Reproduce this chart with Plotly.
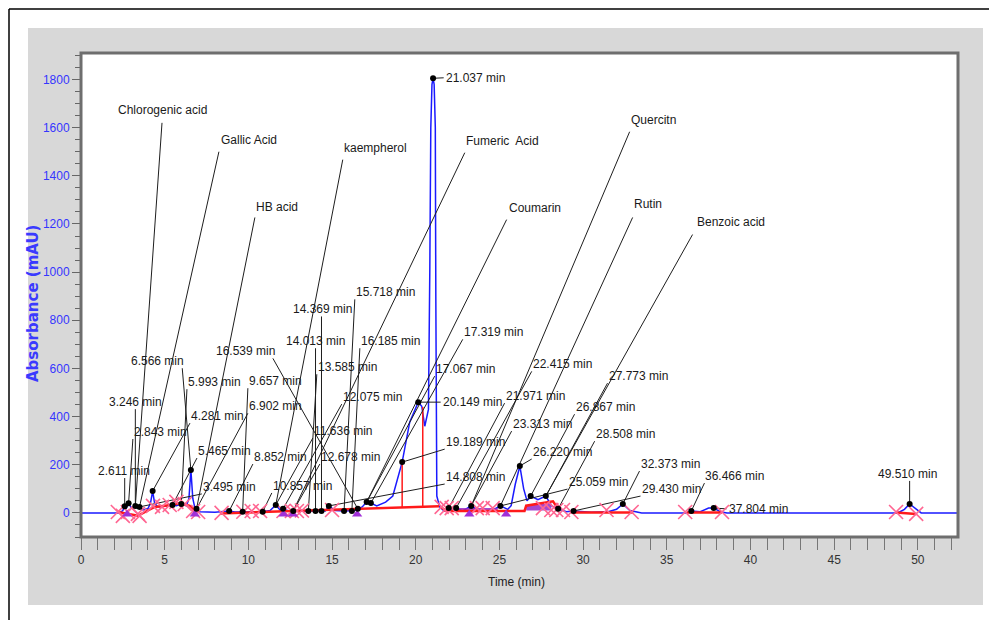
import plotly.graph_objects as go

# ---------------- chromatogram signal (retention time in min, absorbance in mAU) ----------------
time_min = [
    0.0, 2.3, 2.5, 2.611, 2.7, 2.843, 3.0, 3.246, 3.35, 3.495,
    3.7, 4.0, 4.15, 4.281, 4.4, 4.6, 5.0, 5.465, 5.7, 5.993,
    6.3, 6.45, 6.566, 6.68, 6.8, 6.902, 7.1, 8.0, 8.852, 9.2,
    9.657, 10.2, 10.857, 11.3, 11.636, 11.9, 12.075, 12.4, 12.678, 13.1,
    13.585, 13.8, 14.013, 14.2, 14.369, 14.6, 14.808, 15.2, 15.718, 16.0,
    16.185, 16.35, 16.539, 16.8, 17.067, 17.2, 17.319, 17.67, 18.2, 18.63,
    19.189, 19.64, 20.149, 20.36, 20.54, 20.76, 20.84, 20.9, 20.97, 21.037,
    21.1, 21.17, 21.2, 21.23, 21.26, 21.43, 21.7, 21.971, 22.2, 22.415,
    22.8, 23.313, 23.8, 24.5, 25.059, 25.5, 25.7, 25.95, 26.22, 26.45,
    26.65, 26.867, 27.3, 27.773, 28.1, 28.508, 29.0, 29.43, 30.5, 31.5,
    32.0, 32.373, 32.8, 33.5, 36.2, 36.466, 37.0, 37.5, 37.804, 38.2,
    38.6, 48.8, 49.2, 49.51, 49.8, 50.2, 52.4,
]
absorbance = [
    0, 0, 10, 28, 20, 40, 22, 29, 20, 25,
    12, 18, 40, 91, 40, 25, 28, 33, 30, 37,
    30, 60, 178, 60, 22, 17, 5, 3, 8, 4,
    5, 4, 5, 10, 33, 12, 17, 8, 8, 6,
    8, 6, 8, 6, 8, 8, 29, 10, 8, 8,
    8, 10, 17, 25, 45, 38, 41, 29, 45, 70,
    211, 377, 460, 443, 360, 430, 1000, 1600, 1780, 1805,
    1780, 1600, 900, 300, 70, 25, 8, 20, 10, 20,
    8, 29, 8, 8, 29, 15, 30, 120, 195, 100,
    50, 70, 55, 70, 30, 17, 5, 8, 3, 5,
    15, 37, 10, 0, 0, 8, 5, 20, 20, 5,
    0, 0, 15, 37, 20, 0, 0,
]

# ---------------- integration baseline (None splits segments) ----------------
baseline_t = [2.2, 3.4, 4.4, 5.4, 5.9, 6.5, 6.9, None,
              8.3, 14.8, 21.4, None,
              21.5, 21.8, 26.5, 26.6, 28.2, 28.6, None,
              29.3, 33.0, None, 36.2, 38.3, None, 48.7, 49.9]
baseline_mau = [4, -12, 25, 33, 41, 29, 4, None,
                -2, 12, 28, None,
                25, 8, 8, 30, 48, 8, None,
                2, 2, None, 2, 2, None, 2, -4]

# perpendicular drops between fused peaks
drop_t = [19.189, 19.189, None, 20.42, 20.42]
drop_mau = [211, 20, None, 440, 24]

# shaded integration areas
area1_t = [22.4, 24.9, 24.9, 22.4]
area1_mau = [5, 5, 20, 20]
area2_t = [26.6, 28.1, 28.1, 26.6]
area2_mau = [10, 10, 45, 32]

# ---------------- detected peaks ----------------
peak_rt = [2.611, 2.843, 3.246, 3.495, 4.281, 5.465, 5.993, 6.566, 6.902, 8.852,
           9.657, 10.857, 11.636, 12.075, 12.678, 13.585, 14.013, 14.369, 14.808, 15.718,
           16.185, 16.539, 17.067, 17.319, 19.189, 20.149, 21.037, 21.971, 22.415, 23.313,
           25.059, 26.220, 26.867, 27.773, 28.508, 29.430, 32.373, 36.466, 37.804, 49.510]
peak_mau = [28, 40, 29, 25, 91, 33, 37, 178, 17, 8,
            5, 5, 33, 17, 8, 8, 8, 8, 29, 8,
            8, 17, 45, 41, 211, 460, 1805, 20, 20, 29,
            29, 195, 70, 70, 17, 8, 37, 8, 20, 37]

# peak start / end markers
bound_t = [2.2, 2.5, 2.8, 3.4, 3.5, 4.3, 4.84, 5.3, 5.7, 6.2,
           6.7, 7.0, 8.4, 9.7, 10.2, 10.7, 12.1, 12.6, 12.9, 13.2,
           15.0, 21.55, 21.85, 22.15, 23.65, 24.0, 24.6, 27.6, 28.1, 28.4,
           28.8, 29.3, 31.4, 32.9, 36.1, 38.3, 48.7, 49.9]
bound_mau = [4, -12, 4, -4, -12, 29, 25, 33, 46, 37,
             8, 4, 0, 5, 8, 8, 8, 8, 8, 10,
             12, 25, 20, 20, 20, 20, 20, 20, 12, 12,
             12, 4, 12, 4, 4, 4, 4, -4]

# reference-standard markers
std_t = [2.75, 6.8, 12.1, 12.66, 16.5, 23.2, 25.4]
std_mau = [-6, -6, -6, -6, -6, -6, -6]

# ---------------- identified compounds ----------------
compound_names = ["Chlorogenic acid", "Gallic Acid", "HB acid", "kaempherol",
                  "Fumeric\u00a0 Acid", "Coumarin", "Quercitn", "Rutin", "Benzoic acid"]
compound_rt = [3.246, 3.495, 6.902, 11.636, 12.678, 17.067, 23.313, 25.059, 27.773]

# ---------------- label placement ----------------
label_left_t = [0.96, 3.10, 1.61, 7.22, 6.51, 6.93, 6.33, 2.93, 9.97, 10.27,
                9.97, 11.40, 13.85, 15.58, 14.27, 14.09, 12.18, 12.60, 21.73, 16.36,
                16.66, 8.00, 21.13, 22.81, 21.73, 21.55, 21.73, 25.31, 26.93, 25.73,
                29.07, 26.93, 29.49, 31.46, 30.69, 33.43, 33.37, 37.25, 38.63, 47.58]
label_mid_mau = [174, 336, 460, 108, 402, 257, 543, 630, 443, 232,
                 547, 112, 340, 481, 232, 605, 713, 845, 149, 916,
                 713, 671, 597, 750, 294, 460, 1807, 485, 617, 369,
                 128, 253, 439, 568, 327, 99, 203, 153, 17, 162]
side_leader_rt = [20.149, 21.037, 37.804]

compound_left_t = [2.15, 8.30, 10.39, 15.64, 22.93, 25.49, 32.78, 32.96, 36.72]
compound_mid_mau = [1674, 1550, 1272, 1517, 1546, 1268, 1633, 1281, 1210]
compound_lead_t = [4.84, 8.24, 10.39, 15.64, 22.93, 25.43, 32.78, 32.96, 36.54]
compound_lead_mau = [1620, 1500, 1227, 1467, 1496, 1218, 1583, 1227, 1156]

x_range = [0, 52.4]
y_range = [-100, 1910]
W, H = 989, 620
M_L, M_R, M_T, M_B = 81, 31, 53, 83
plot_w = W - M_L - M_R
plot_h = H - M_T - M_B
min_per_px = (x_range[1] - x_range[0]) / plot_w
mau_per_px = (y_range[1] - y_range[0]) / plot_h

FONT = "Liberation Sans, Arial, sans-serif"
label_font = dict(family=FONT, size=12, color="#1a1a1a")

# leader lines from each label to its peak apex
lead_x, lead_y = [], []
annotations = []
for rt, h, lt, lm in zip(peak_rt, peak_mau, label_left_t, label_mid_mau):
    text = f"{rt:.3f} min"
    if rt in side_leader_rt:
        sx, sy = lt - 1 * min_per_px, lm
    else:
        w = len(text) * 5.8 * min_per_px
        sx = min(max(rt, lt), lt + w)
        sy = lm - 7 * mau_per_px
    lead_x += [sx, rt, None]
    lead_y += [sy, h, None]
    annotations.append(dict(x=lt, y=lm, xref="x", yref="y", text=text, showarrow=False,
                            xanchor="left", yanchor="middle", font=label_font, borderpad=0))

apex = dict(zip(peak_rt, peak_mau))
for name, rt, lt, lm, st, sm in zip(compound_names, compound_rt, compound_left_t,
                                    compound_mid_mau, compound_lead_t, compound_lead_mau):
    lead_x += [st, rt, None]
    lead_y += [sm, apex[rt], None]
    annotations.append(dict(x=lt, y=lm, xref="x", yref="y", text=name, showarrow=False,
                            xanchor="left", yanchor="middle", font=label_font, borderpad=0))


def px_x(p):
    return (p - M_L) / plot_w


def px_y(p):
    return (H - M_B - p) / plot_h


# axis titles
annotations.append(dict(x=px_x(33), y=px_y(304), xref="paper", yref="paper",
                        xanchor="center", yanchor="middle",
                        text="<b>Absorbance (mAU)</b>", textangle=-90, showarrow=False,
                        font=dict(family="DejaVu Sans", size=15, color="#3a3aff")))
annotations.append(dict(x=px_x(516), y=px_y(591), xref="paper", yref="paper",
                        text="Time (min)", showarrow=False,
                        font=dict(family=FONT, size=12, color="#222222")))

fig = go.Figure()

fig.add_trace(go.Scatter(x=time_min, y=absorbance, mode="lines",
                         line=dict(color="#1a1aff", width=1.5), hoverinfo="skip"))
fig.add_trace(go.Scatter(x=area1_t, y=area1_mau, fill="toself", mode="none",
                         fillcolor="rgba(150,40,200,0.85)", hoverinfo="skip"))
fig.add_trace(go.Scatter(x=area2_t, y=area2_mau, fill="toself", mode="none",
                         fillcolor="rgba(150,40,200,0.85)", hoverinfo="skip"))
fig.add_trace(go.Scatter(x=baseline_t, y=baseline_mau, mode="lines",
                         line=dict(color="#ff1a1a", width=2.5), hoverinfo="skip"))
fig.add_trace(go.Scatter(x=drop_t, y=drop_mau, mode="lines",
                         line=dict(color="#ff1a1a", width=1.5), hoverinfo="skip"))
fig.add_trace(go.Scatter(x=lead_x, y=lead_y, mode="lines",
                         line=dict(color="#1e1e1e", width=1), hoverinfo="skip"))
fig.add_trace(go.Scatter(x=bound_t, y=bound_mau, mode="markers",
                         marker=dict(symbol="x-thin-open", size=14,
                                     line=dict(color="#ff2020", width=1.6)), hoverinfo="skip"))
fig.add_trace(go.Scatter(x=std_t, y=std_mau, mode="markers",
                         marker=dict(symbol="triangle-up", size=9, color="#a030d8"), hoverinfo="skip"))
fig.add_trace(go.Scatter(x=peak_rt, y=peak_mau, mode="markers",
                         marker=dict(symbol="circle", size=6, color="#000000"), hoverinfo="skip"))

shapes = [
    dict(type="rect", xref="paper", yref="paper", layer="below",
         x0=px_x(28), x1=px_x(983), y0=px_y(605), y1=px_y(28),
         fillcolor="#d8d8d8", line=dict(width=0)),
    dict(type="rect", xref="paper", yref="paper", layer="below",
         x0=0, x1=1, y0=0, y1=1, fillcolor="#ffffff", line=dict(width=0)),
    dict(type="rect", xref="paper", yref="paper", layer="above",
         x0=0, x1=1, y0=0, y1=1, line=dict(color="#6e6e6e", width=3)),
    dict(type="line", xref="paper", yref="paper", x0=px_x(9), x1=px_x(9),
         y0=px_y(620), y1=px_y(9), line=dict(color="#000000", width=1.5)),
    dict(type="line", xref="paper", yref="paper", x0=px_x(9), x1=px_x(989),
         y0=px_y(9), y1=px_y(9), line=dict(color="#000000", width=1.5)),
]

fig.update_layout(
    width=W, height=H,
    margin=dict(l=M_L, r=M_R, t=M_T, b=M_B),
    paper_bgcolor="#ffffff", plot_bgcolor="#ffffff",
    showlegend=False,
    shapes=shapes,
    annotations=annotations,
    xaxis=dict(range=x_range, showgrid=False, zeroline=False, showline=False,
               tickmode="array", tickvals=list(range(0, 51, 5)),
               ticks="outside", ticklen=12, tickcolor="#777777", tickwidth=1,
               minor=dict(dtick=1, ticks="outside", ticklen=12, tickcolor="#777777"),
               tickfont=dict(family=FONT, size=12, color="#333333")),
    yaxis=dict(range=y_range, showgrid=False, zeroline=False, showline=False,
               tickmode="array", tickvals=list(range(0, 1801, 200)),
               ticks="outside", ticklen=8, tickcolor="#666666", tickwidth=1,
               minor=dict(dtick=50, ticks="outside", ticklen=5, tickcolor="#666666"),
               tickfont=dict(family=FONT, size=12, color="#3535ff")),
)

fig.write_html("out.html")
